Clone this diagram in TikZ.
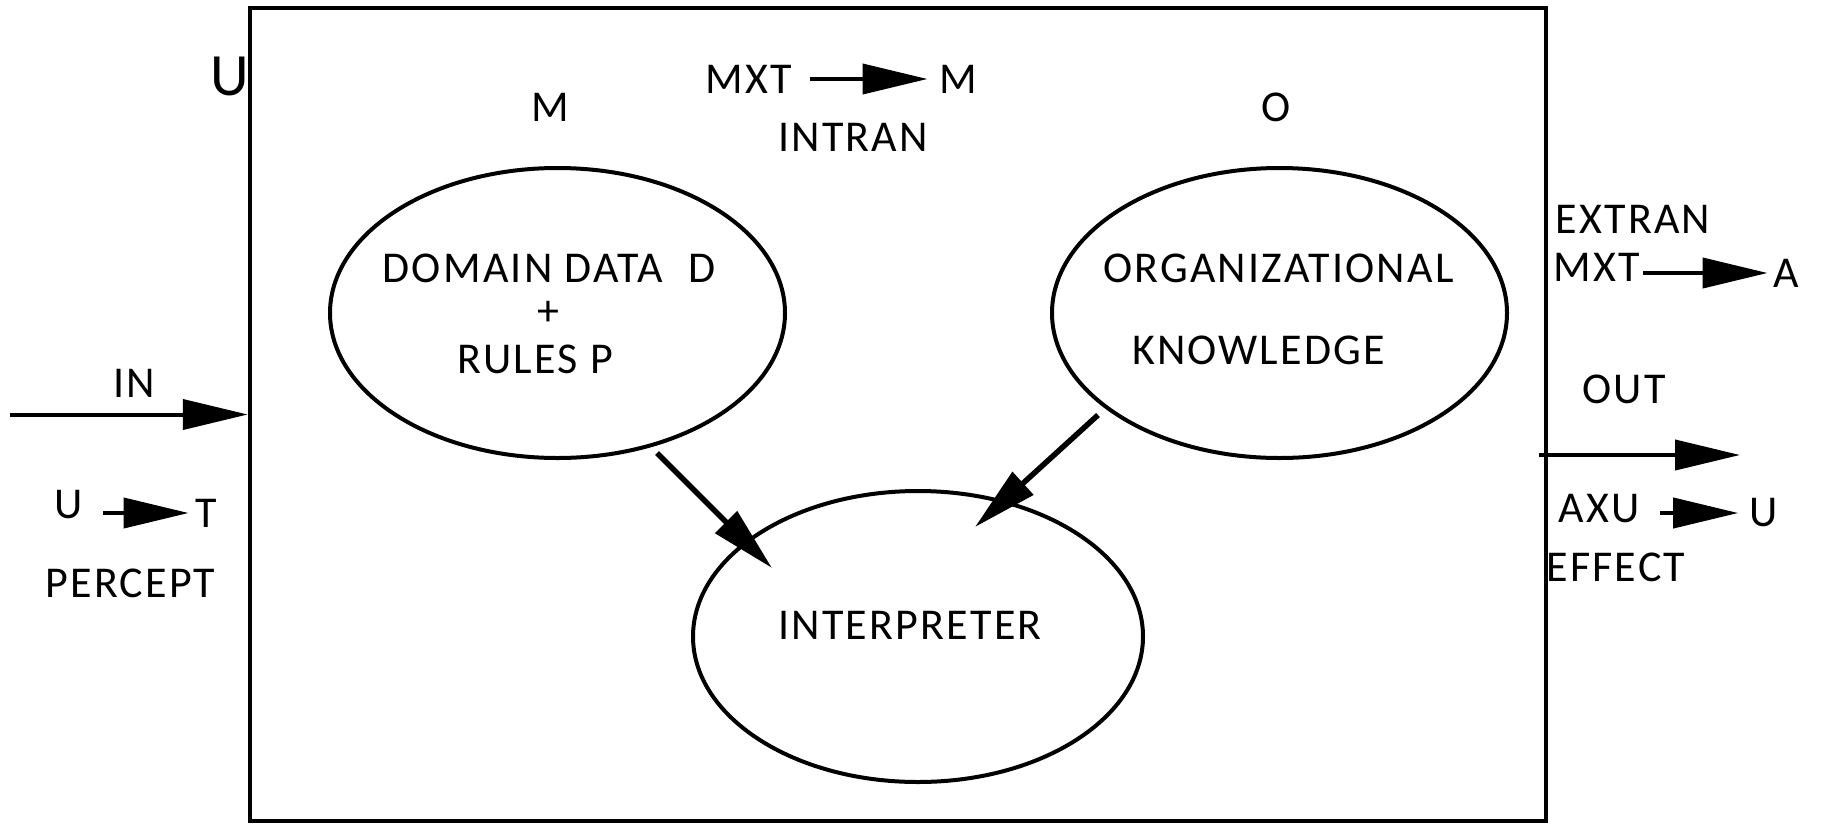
\documentclass[tikz,border=0pt]{standalone}
\usepackage{fontspec}
\setmainfont{Carlito}[LetterSpace=5]
\usetikzlibrary{arrows.meta,shapes.geometric,calc}

\begin{document}
\begin{tikzpicture}[x=1pt,y=-1pt,
  lbl/.style={inner sep=0pt, font=\fontsize{44}{50}\selectfont},
  biglbl/.style={inner sep=0pt, font=\fontsize{60}{66}\selectfont},
  ell/.style={ellipse, draw, line width=4pt, inner sep=0pt},
  arr/.style={-{Triangle[length=65pt,width=30pt]}, line width=4pt},
  thickarr/.style={-{Triangle[length=65pt,width=30pt]}, line width=5.5pt}]

  \useasboundingbox (0,0) rectangle (1821,823);

  % the agent frame
  \node[draw, line width=4.5pt, inner sep=0pt, minimum width=1296pt, minimum height=813pt] (box) at (898,414.5) {};
  \node[biglbl] (uframe) at (230,76) {U};

  % the three components
  \node[ell, minimum width=455pt, minimum height=290pt] (dom) at (557.5,313) {};
  \node[ell, minimum width=455pt, minimum height=290pt] (org) at (1279.5,313) {};
  \node[ell, minimum width=450pt, minimum height=291pt] (interp) at (918,636.5) {};

  \node[lbl] (domA) at (549,268.5) {DOMAIN DATA\hspace{25pt}D};
  \node[lbl] (domB) at (548,313) {+};
  \node[lbl] (domC) at (535,359.5) {RULES P};

  \node[lbl] (orgA) at (1278.5,268.5) {ORGANIZATIONAL};
  \node[lbl] (orgB) at (1258.5,350) {KNOWLEDGE};

  \node[lbl] (interpT) at (910,625.5) {INTERPRETER};

  % labels above the components
  \node[lbl] (mlbl) at (550,107) {M};
  \node[lbl] (olbl) at (1276.5,107) {O};

  % internal transition
  \node[lbl] (intA) at (748.5,79) {MXT};
  \node[lbl] (intB) at (958.5,79) {M};
  \node[lbl] (intran) at (853,137) {INTRAN};
  \draw[arr] ([xshift=18pt]intA.east) -- ([xshift=-12pt]intB.west);

  % input side
  \coordinate (inStart) at (10,414.5);
  \draw[arr] (inStart) -- (box.west);
  \node[lbl] (inlbl) at (134,383) {IN};
  \node[lbl] (pU) at (68.5,505) {U};
  \node[lbl] (pT) at (206.5,513) {T};
  \node[lbl] (percept) at (130.5,583) {PERCEPT};
  \draw[arr] ([xshift=20pt]pU.east |- pT.center) -- ([xshift=-7pt]pT.west);

  % external transition
  \node[lbl] (extran) at (1633,219.5) {EXTRAN};
  \node[lbl] (exA) at (1596.5,267.5) {MXT};
  \node[lbl] (exB) at (1786.5,273) {A};
  \draw[arr] ([xshift=3pt]exA.east |- exB.center) -- ([xshift=-6pt]exB.west);

  % output side
  \node[lbl] (outlbl) at (1624,389) {OUT};
  \coordinate (outStart) at (1539,455);
  \coordinate (outEnd) at (1740,455);
  \draw[arr] (outStart) -- (outEnd);
  \node[lbl] (efA) at (1599,509) {AXU};
  \node[lbl] (efB) at (1763.5,513) {U};
  \node[lbl] (effect) at (1616,567.5) {EFFECT};
  \draw[arr] ([xshift=20pt]efA.east |- efB.center) -- ([xshift=-11pt]efB.west);

  % flows into the interpreter
  \draw[thickarr] ($(dom.center)+(99.5,140)$) -- ($(interp.center)+(-146,-68.5)$);
  \draw[thickarr] ($(org.center)+(-181.5,102)$) -- ($(interp.center)+(57,-109.5)$);
\end{tikzpicture}
\end{document}
